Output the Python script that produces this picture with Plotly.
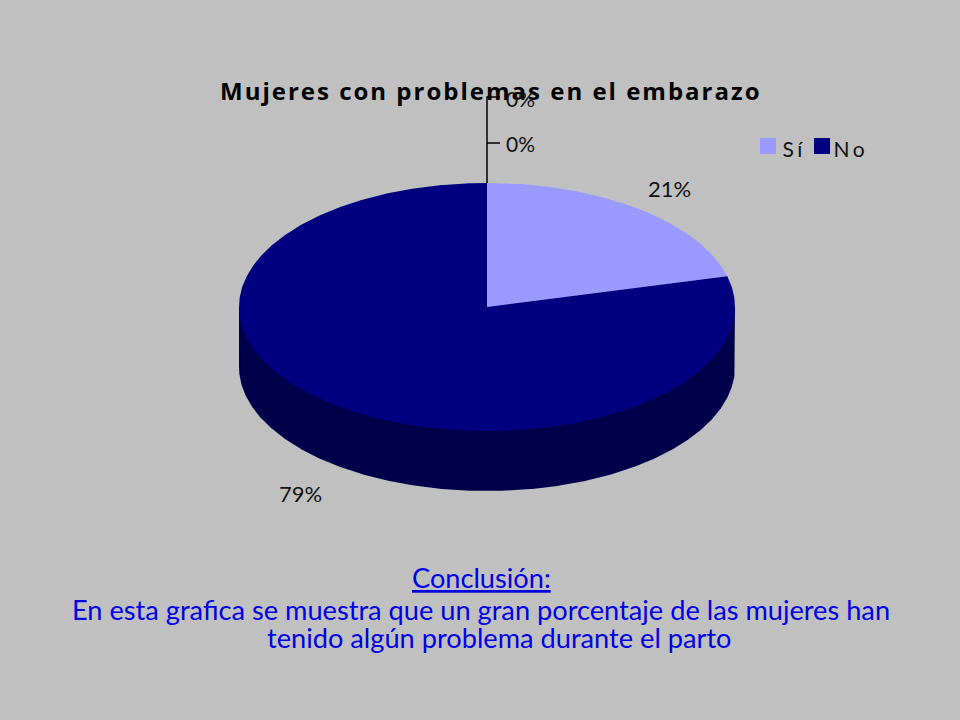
import numpy as np
import plotly.graph_objects as go

# Data
categories = ["Sí", "No"]
values = [21, 79]
zero_labels = ["0%", "0%"]
slice_labels = ["21%", "79%"]
title = "Mujeres con problemas en el embarazo"
conclusion_head = "Conclusión:"
conclusion_lines = ["En esta grafica se muestra que un gran porcentaje de las mujeres han",
                    "tenido algún problema durante el parto"]

# Styles / geometry of the tilted pie
COL = {"Sí": "#9999FF", "No": "#000080"}
SIDE = "#00004A"
BG = "#C0C0C0"
CX, CY, RX, RY, DEPTH = 487, 307, 248, 124, 60


def wedge(a0, a1):
    t = np.radians(np.linspace(a0, a1, max(int(abs(a1 - a0)) * 2, 2)))
    xs = CX + RX * np.sin(t)
    ys = CY - RY * np.cos(t)
    return np.r_[CX, xs, CX], np.r_[CY, ys, CY]


total = sum(values)
angles = np.cumsum([0] + values) / total * 360

fig = go.Figure()

# Side wall: the visible front half of the rim (closed under the top face)
t = np.radians(np.linspace(90, 270, 361))
wx = CX + RX * np.sin(t)
wy = CY - RY * np.cos(t)
fig.add_trace(go.Scatter(x=np.r_[wx[0], wx, wx[-1]], y=np.r_[CY, wy + DEPTH, CY],
                         mode="lines", fill="toself", fillcolor=SIDE,
                         line=dict(color=SIDE, width=0), hoverinfo="skip", showlegend=False))

# Top face
for name, a0, a1 in zip(categories, angles[:-1], angles[1:]):
    xs, ys = wedge(a0, a1)
    fig.add_trace(go.Scatter(x=xs, y=ys, mode="lines", fill="toself", fillcolor=COL[name],
                             line=dict(color=COL[name], width=0), name=name, showlegend=False))

# Leader line of the zero-valued slices
fig.add_trace(go.Scatter(x=[487, 487, 500, 487, 487, 500], y=[183, 97, 97, 97, 143, 143],
                         mode="lines", line=dict(color="black", width=1.5),
                         hoverinfo="skip", showlegend=False))

ann = []


def text(x, y, s, size, color="#111111", family="Lato", **kw):
    ann.append(dict(x=x, y=y, xref="x", yref="y", text=s, showarrow=False, xanchor="center",
                    yanchor="middle", font=dict(size=size, color=color, family=family), **kw))


text(491, 90, f"<b>{title}</b>", 24, color="#000000", family="Open Sans")
text(520, 98, zero_labels[0], 21)
text(520, 143, zero_labels[1], 21)
text(669, 188, slice_labels[0], 22)
text(300, 493, slice_labels[1], 22)
text(794, 148, categories[0], 21)
text(851, 148, categories[1], 21)

BLUE = "#0000E6"
text(481, 577, f"<u>{conclusion_head}</u>", 27.2, color=BLUE)
text(481, 609, conclusion_lines[0], 27.2, color=BLUE)
text(499, 637, conclusion_lines[1], 27.2, color=BLUE)

shapes = [dict(type="rect", xref="x", yref="y", x0=x, x1=x + 16, y0=138, y1=154,
               fillcolor=COL[c], line=dict(width=0)) for x, c in zip([760, 814], categories)]

fig.update_layout(width=960, height=720, margin=dict(l=0, r=0, t=0, b=0),
                  paper_bgcolor=BG, plot_bgcolor=BG, showlegend=False,
                  xaxis=dict(range=[0, 960], visible=False, fixedrange=True),
                  yaxis=dict(range=[720, 0], visible=False, fixedrange=True),
                  annotations=ann, shapes=shapes)

post = """
document.body.style.margin = '0';
document.querySelectorAll('.annotation-text').forEach(function(el){
  var t = el.textContent;
  if (t.indexOf('Mujeres') === 0) el.style.letterSpacing = '2px';
  if (t === 'Sí' || t === 'No') el.style.letterSpacing = '3.5px';
});
"""
fig.write_html("out.html", post_script=post, config={"displayModeBar": False})
